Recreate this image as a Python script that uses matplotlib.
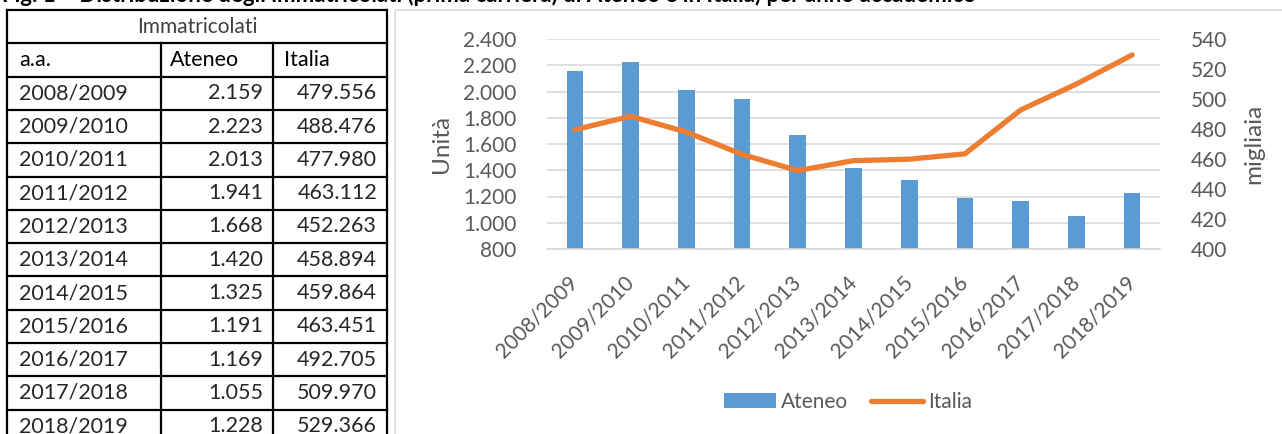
import matplotlib
matplotlib.use('Agg')
import matplotlib.pyplot as plt
from matplotlib.patches import Patch, Rectangle
from matplotlib.lines import Line2D

plt.rcParams['font.family'] = ['Lato', 'DejaVu Sans']

years = ['2008/2009', '2009/2010', '2010/2011', '2011/2012', '2012/2013',
         '2013/2014', '2014/2015', '2015/2016', '2016/2017', '2017/2018',
         '2018/2019']
ateneo = [2159, 2223, 2013, 1941, 1668, 1420, 1325, 1191, 1169, 1055, 1228]
italia = [479.556, 488.476, 477.980, 463.112, 452.263, 458.894, 459.864,
          463.451, 492.705, 509.970, 529.366]
ateneo_txt = ['2.159', '2.223', '2.013', '1.941', '1.668', '1.420', '1.325',
              '1.191', '1.169', '1.055', '1.228']
italia_txt = ['479.556', '488.476', '477.980', '463.112', '452.263', '458.894',
              '459.864', '463.451', '492.705', '509.970', '529.366']

title = ('Fig. 1 \u2013 Distribuzione degli immatricolati (prima carriera) '
         'di Ateneo e in Italia) per anno accademico')

W, H = 1282, 434
BLUE = '#5B9BD5'
ORANGE = '#ED7D31'
GREY = '#595959'
GRID = '#D9D9D9'

fig = plt.figure(figsize=(W / 100, H / 100), dpi=100)

# --- background canvas in pixel coordinates (table + frame) ---
bg = fig.add_axes([0, 0, 1, 1])
bg.set_xlim(0, W)
bg.set_ylim(H, 0)
bg.axis('off')

bg.add_patch(Rectangle((395, 10), 900, 440, fill=False, edgecolor=GRID, lw=1.2))

# table grid
x0, x1, x2, x3 = 7, 161, 273, 387
top, row_h = 10, 33.3
n_rows = len(years) + 2
ys = [top + row_h * i for i in range(n_rows + 1)]
for y in ys:
    bg.plot([x0, x3], [y, y], color='black', lw=1.6, solid_capstyle='projecting')
bg.plot([x0, x0], [top, H + 5], color='black', lw=1.6)
bg.plot([x3, x3], [top, H + 5], color='black', lw=1.6)
for x in (x1, x2):
    bg.plot([x, x], [ys[1], H + 5], color='black', lw=1.6)

bg.text((x0 + x3) / 2, ys[0] + row_h / 2, 'Immatricolati', ha='center',
        va='center', fontsize=15, color='#404040')
hy = ys[1] + row_h / 2
bg.text(19, hy, 'a.a.', va='center', fontsize=15.5, color='black')
bg.text(170, hy, 'Ateneo', va='center', fontsize=15.5, color='black')
bg.text(284, hy, 'Italia', va='center', fontsize=15.5, color='black')
for i, yr in enumerate(years):
    cy = ys[i + 2] + row_h / 2
    bg.text(19, cy, yr, va='center', fontsize=15.5, color='#262626')
    bg.text(263, cy, ateneo_txt[i], ha='right', va='center', fontsize=15.5, color='#262626')
    bg.text(377, cy, italia_txt[i], ha='right', va='center', fontsize=15.5, color='#262626')

# caption, cut off at the top edge as in the source
fig.text(2 / W, 1 - 2.5 / H, title, ha='left', va='baseline', fontsize=16,
         fontweight='bold', color='black')

# --- chart ---
ax = fig.add_axes([547 / W, 1 - 249 / H, (1160 - 547) / W, (249 - 39) / H])
xs = list(range(len(years)))
ax.bar(xs, ateneo, width=0.3, color=BLUE, zorder=2)
ax.set_xlim(-0.5, len(years) - 0.5)
ax.set_ylim(800, 2400)
ax.set_yticks(range(800, 2401, 200))
ax.set_yticklabels([f'{v:,}'.replace(',', '.') for v in range(800, 2401, 200)])
ax.yaxis.grid(True, color=GRID, lw=1.2, zorder=0)
ax.set_axisbelow(True)
for s in ax.spines.values():
    s.set_visible(False)
ax.spines['bottom'].set_visible(True)
ax.spines['bottom'].set_color(GRID)
ax.spines['bottom'].set_linewidth(1.2)
ax.set_xticks(xs)
ax.set_xticklabels(years, rotation=45, ha='right', va='center',
                   rotation_mode='anchor')
ax.tick_params(axis='x', length=0, pad=22, labelsize=15, labelcolor=GREY)
ax.tick_params(axis='y', length=0, pad=22, labelsize=15, labelcolor=GREY)
ax.set_ylabel('Unit\u00e0', fontsize=17.5, color=GREY, labelpad=8)

ax2 = ax.twinx()
ax2.plot(xs, italia, color=ORANGE, lw=3.8, solid_capstyle='round', zorder=3)
ax2.set_ylim(400, 540)
ax2.set_yticks(range(400, 541, 20))
for s in ax2.spines.values():
    s.set_visible(False)
ax2.tick_params(axis='y', length=0, pad=22, labelsize=15, labelcolor=GREY)
ax2.set_ylabel('migliaia', fontsize=17.5, color=GREY, labelpad=12)

handles = [Patch(facecolor=BLUE, edgecolor='none'),
           Line2D([], [], color=ORANGE, lw=3.8, solid_capstyle='round')]
fig.legend(handles, ['Ateneo', 'Italia'], loc='center',
           bbox_to_anchor=(848 / W, 1 - 402 / H), ncol=2, frameon=False,
           fontsize=15, handlelength=2.5, handletextpad=0.25,
           columnspacing=1.1, labelcolor=GREY)

fig.savefig('out.png', dpi=100)
